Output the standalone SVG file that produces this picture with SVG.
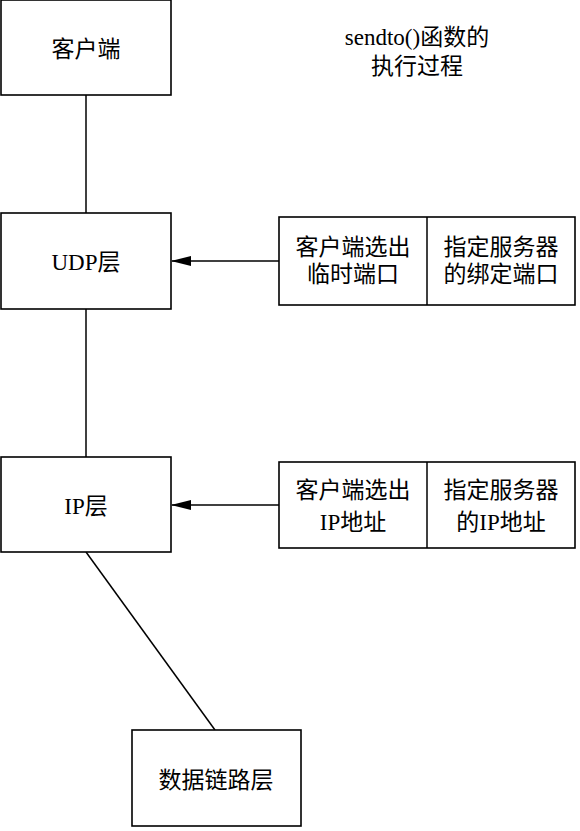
<svg xmlns="http://www.w3.org/2000/svg" width="580" height="831" viewBox="0 0 580 831">
<style>
.box{fill:#fff;stroke:#000;stroke-width:1.6}
.ln{stroke:#000;stroke-width:1.5;fill:none}
text{font-family:"Liberation Serif","Noto Sans CJK SC",serif;font-size:23px;fill:#000;text-anchor:middle;dominant-baseline:central}
</style>
<defs>
<marker id="ah" markerWidth="20" markerHeight="10" refX="19" refY="5" orient="auto" markerUnits="userSpaceOnUse">
<path d="M0,0 L20,5 L0,10 Z" fill="#000"/>
</marker>
</defs>
<rect width="580" height="831" fill="#fff"/>
<g id="connectors">
<line class="ln" x1="86" y1="95" x2="86" y2="213"/>
<line class="ln" x1="86" y1="309" x2="86" y2="457"/>
<line class="ln" x1="86" y1="552" x2="215" y2="730"/>
<line class="ln" x1="279" y1="261" x2="172" y2="261" marker-end="url(#ah)"/>
<line class="ln" x1="279" y1="505" x2="172" y2="505" marker-end="url(#ah)"/>
</g>
<g id="client">
<rect class="box" x="1" y="0" width="170" height="95"/>
<text x="86" y="49">客户端</text>
</g>
<g id="udp">
<rect class="box" x="1" y="213" width="170" height="96"/>
<text x="86" y="262">UDP层</text>
</g>
<g id="ip">
<rect class="box" x="1" y="457" width="170" height="95"/>
<text x="86" y="506">IP层</text>
</g>
<g id="datalink">
<rect class="box" x="132" y="730" width="169" height="96"/>
<text x="216" y="780">数据链路层</text>
</g>
<g id="port">
<rect class="box" x="279" y="217" width="296" height="88"/>
<line class="ln" x1="427" y1="217" x2="427" y2="305"/>
<text x="353" y="247">客户端选出</text>
<text x="353" y="274">临时端口</text>
<text x="501" y="247">指定服务器</text>
<text x="501" y="274">的绑定端口</text>
</g>
<g id="addr">
<rect class="box" x="279" y="462" width="296" height="86"/>
<line class="ln" x1="427" y1="462" x2="427" y2="548"/>
<text x="353" y="490">客户端选出</text>
<text x="353" y="522">IP地址</text>
<text x="501" y="490">指定服务器</text>
<text x="501" y="522">的IP地址</text>
</g>
<g id="title">
<text x="417" y="37">sendto()函数的</text>
<text x="417" y="66">执行过程</text>
</g>
</svg>
